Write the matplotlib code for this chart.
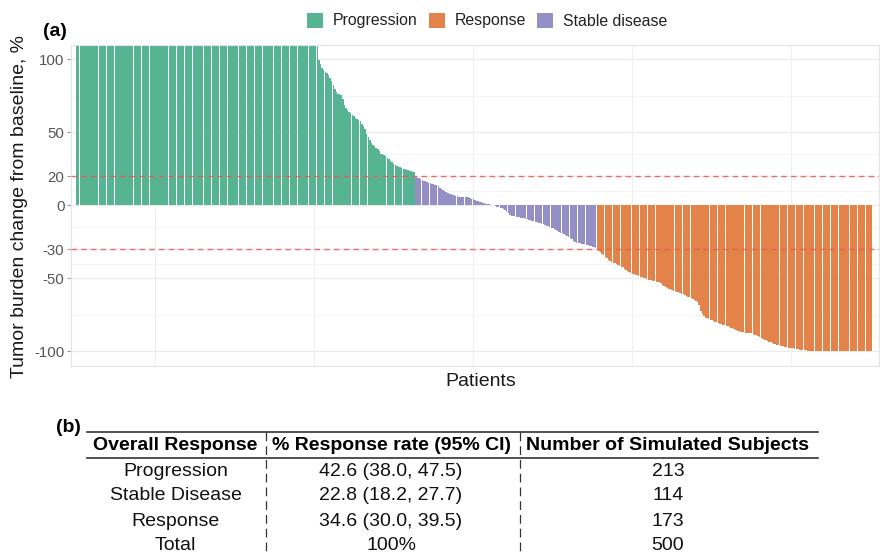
import matplotlib.pyplot as plt
from matplotlib.lines import Line2D
from matplotlib.patches import Rectangle

W, H = 880, 554

CATEGORIES = ["Progression", "Response", "Stable disease"]
COLORS = {"Progression": "#57B493", "Response": "#E3834A", "Stable disease": "#9490C6"}

# tumour change per patient, sorted; first bars run past the top of the panel
PROGRESSION = [
    115, 115, 115, 115, 115, 115, 115, 115, 115, 115, 115, 115, 115, 115, 115, 115, 115, 115, 115,
    115, 115, 115, 115, 115, 115, 115, 115, 115, 115, 115, 115, 115, 115, 115, 115, 115, 115, 115,
    115, 115, 115, 115, 115, 115, 115, 115, 115, 115, 115, 115, 115, 115, 115, 115, 115, 115, 115,
    115, 115, 115, 115, 115, 115, 115, 115, 115, 115, 115, 115, 115, 115, 115, 115, 115, 115, 115,
    115, 115, 115, 115, 115, 115, 115, 115, 115, 115, 115, 115, 115, 115, 115, 115, 115, 115, 115,
    115, 115, 115, 115, 115, 115, 115, 115, 115, 115, 115, 115, 115, 115, 115, 115, 115, 115, 115,
    115, 115, 115, 115, 115, 115, 115, 115, 115, 115, 115, 115, 115, 115, 115, 115, 115, 115, 115,
    115, 115, 115, 115, 115, 115, 115, 115, 115, 115, 115, 115, 115, 115, 115, 115, 115, 115, 115,
    99.5, 97, 94, 92.5, 91.5, 90.5, 89.5, 87.5, 85, 82.5,
    80, 77.5, 76.5, 76, 75.5, 73, 69, 66.5, 65, 64,
    63, 62, 61, 60, 59, 58.5, 57.5, 56, 54.5, 52.5,
    49, 46.5, 44.5, 43, 41.5, 40.5, 39.5, 38.5, 37, 35.5,
    35, 34.5, 33.5, 32.5, 31.5, 30.5, 29.5, 28.5, 27.5, 27,
    26.5, 26, 25.5, 25, 24.8, 24.5, 24.2, 23.8, 23.4, 23, 22.5,
]
STABLE = [
    19.5, 19, 18.5, 17.8, 17.5, 17, 16.5, 16, 15.5, 15,
    14.7, 14.3, 14, 13.6, 13.2, 12, 11, 10.2, 9.8, 9.2,
    8.6, 8, 7.5, 7.2, 6.8, 6.5, 6.2, 6, 5.9, 5.8,
    5.8, 5.7, 5.7, 5.6, 5, 4.5, 4.1, 3.6, 3.2, 2.8,
    2.4, 2, 1.7, 1.4, 1.1, 0.8, 0.6, 0.4, 0.3, 0.1,
    -0.2, -0.8, -1.2, -1.6, -2, -2.5, -3.5, -4.5, -5.5, -6.5,
    -7.2, -7.4, -7.6, -7.8, -8, -8.2, -8.4, -8.6, -8.9, -9.2,
    -9.5, -9.8, -10.1, -10.4, -10.8, -11.2, -11.6, -12, -12.3, -12.7,
    -13.1, -13.4, -13.8, -14.3, -14.8, -15.2, -15.7, -16.2, -16.8, -17.4,
    -18, -18.6, -19.1, -19.6, -20.2, -21, -21.8, -22.6, -23.3, -24.2,
    -25.3, -25.6, -25.8, -26, -26.2, -26.4, -26.6, -26.9, -27.2, -27.5,
    -27.8, -28.2, -28.6, -29,
]
RESPONSE = [
    -30.2, -31, -32, -33, -34, -35.2, -36.3, -37.3, -38, -38.6,
    -39.2, -39.8, -40.3, -40.8, -41.3, -41.9, -42.5, -43.5, -44.5, -45,
    -45.6, -46.2, -46.8, -47.2, -47.6, -48, -48.4, -48.8, -49.2, -49.6,
    -50, -50.4, -50.8, -51, -51.3, -51.6, -51.9, -52.2, -52.5, -52.8,
    -53.5, -54.3, -55, -55.8, -56.5, -57.2, -57.6, -58, -58.4, -58.8,
    -59.2, -59.5, -59.8, -60.4, -61, -61.5, -62, -62.5, -63, -63.6,
    -64.2, -64.8, -65.3, -66.5, -68.5, -72, -74.5, -76, -76.8, -77.3,
    -77.8, -78.3, -78.8, -79.2, -79.7, -80.2, -80.7, -81.2, -81.5, -81.8,
    -82.1, -82.4, -82.8, -83.3, -83.8, -84.3, -84.8, -85.5, -85.9, -86.2,
    -86.5, -86.8, -87, -87.2, -87.3, -87.5, -87.6, -87.7, -88.2, -88.6,
    -89, -89.3, -90, -90.8, -91.5, -92, -92.5, -92.9, -93.3, -93.8,
    -94.2, -94.6, -95, -95.4, -95.7, -96, -96.3, -96.6, -96.9, -97.1,
    -97.4, -97.6, -97.8, -98, -98.3, -98.5, -98.7, -98.8, -99, -99.1,
    -99.2, -99.3, -99.4, -99.5, -99.6, -99.6, -99.7, -99.7, -99.8, -99.8,
    -99.8, -99.9, -99.9, -99.9,
    -100, -100, -100, -100, -100, -100, -100, -100, -100, -100,
    -100, -100, -100, -100, -100, -100, -100, -100, -100, -100,
    -100, -100, -100, -100, -100, -100, -100, -100, -100,
]

Y_TICKS = [-100, -50, -30, 0, 20, 50, 100]
Y_MINOR = [-75, -40, -15, 10, 35, 75]
X_GRID = [50, 150, 250, 350, 450]
THRESHOLDS = [20, -30]

TABLE_HEADER = ["Overall Response", "% Response rate (95% CI)", "Number of Simulated Subjects"]
TABLE_ROWS = [
    ["Progression", "42.6 (38.0, 47.5)", "213"],
    ["Stable Disease", "22.8 (18.2, 27.7)", "114"],
    ["Response", "34.6 (30.0, 39.5)", "173"],
    ["Total", "100%", "500"],
]


def fx(px):
    return px / W


def fy(py):
    return 1 - py / H


plt.rcParams["font.family"] = ["Liberation Sans", "DejaVu Sans"]

fig = plt.figure(figsize=(W / 100, H / 100), dpi=100)

# ---- panel (a): waterfall ----
ax = fig.add_axes([fx(70.7), fy(366), (879 - 70.7) / W, (366 - 44.7) / H])
ax.set_xlim(-3, 505)
ax.set_ylim(-110, 110)

for y in Y_TICKS:
    ax.axhline(y, color="#EBEBEB", lw=0.9, zorder=0)
for y in Y_MINOR:
    ax.axhline(y, color="#F4F4F4", lw=0.7, zorder=0)
for x in X_GRID:
    ax.axvline(x, color="#EFEFEF", lw=0.8, zorder=0)

start = 1
for name, vals in [("Progression", PROGRESSION), ("Stable disease", STABLE), ("Response", RESPONSE)]:
    xs = list(range(start, start + len(vals)))
    ax.bar(xs, vals, width=0.9, color=COLORS[name], linewidth=0, zorder=2)
    start += len(vals)

for t in THRESHOLDS:
    ax.axhline(t, color="#F2544F", lw=1.0, ls=(0, (4, 3)), alpha=0.85, zorder=3)

ax.set_xticks([])
ax.set_yticks(Y_TICKS)
ax.set_yticklabels([str(v) for v in Y_TICKS])
ax.tick_params(axis="y", labelsize=10.8, labelcolor="#555555", color="#888888", length=3, width=0.6, pad=1.5)
for s in ax.spines.values():
    s.set_color("#E4E4E4")
    s.set_linewidth(0.8)

fig.text(fx(20), fy(207), "Tumor burden change from baseline, %", rotation=90,
         ha="center", va="center", fontsize=14, color="#1A1A1A")
fig.text(fx(481), fy(381), "Patients", ha="center", va="center", fontsize=14, color="#1A1A1A")
fig.text(fx(55), fy(32), "(a)", ha="center", va="center", fontsize=14, fontweight="bold")

# legend along the top
leg_items = [("Progression", 307, 333), ("Response", 429, 455), ("Stable disease", 537, 563)]
for name, kx, tx in leg_items:
    fig.add_artist(Rectangle((fx(kx), fy(28.3)), 16 / W, 15.6 / H, transform=fig.transFigure,
                             facecolor=COLORS[name], edgecolor="none"))
    fig.text(fx(tx), fy(21), name, ha="left", va="center", fontsize=11.4, color="#222222")

# ---- panel (b): summary table ----
fig.text(fx(68), fy(427), "(b)", ha="center", va="center", fontsize=14, fontweight="bold")

col_x = [175.5, 391, 668]
fig.add_artist(Line2D([fx(87), fx(818)], [fy(432), fy(432)], color="#333333", lw=1.2))
fig.add_artist(Line2D([fx(87), fx(818)], [fy(458.3), fy(458.3)], color="#333333", lw=1.2))
for vx in [266, 520]:
    fig.add_artist(Line2D([fx(vx), fx(vx)], [fy(432), fy(556)], color="#333333", lw=0.9,
                          ls=(0, (7, 4))))

for cx, head in zip(col_x, TABLE_HEADER):
    fig.text(fx(cx), fy(446), head, ha="center", va="center", fontsize=14, fontweight="bold")

row_y = [471, 496, 521, 546]
for ry, row in zip(row_y, TABLE_ROWS):
    for cx, cell in zip(col_x, row):
        fig.text(fx(cx), fy(ry), cell, ha="center", va="center", fontsize=14, color="#111111")

fig.savefig("out.png", dpi=100)
